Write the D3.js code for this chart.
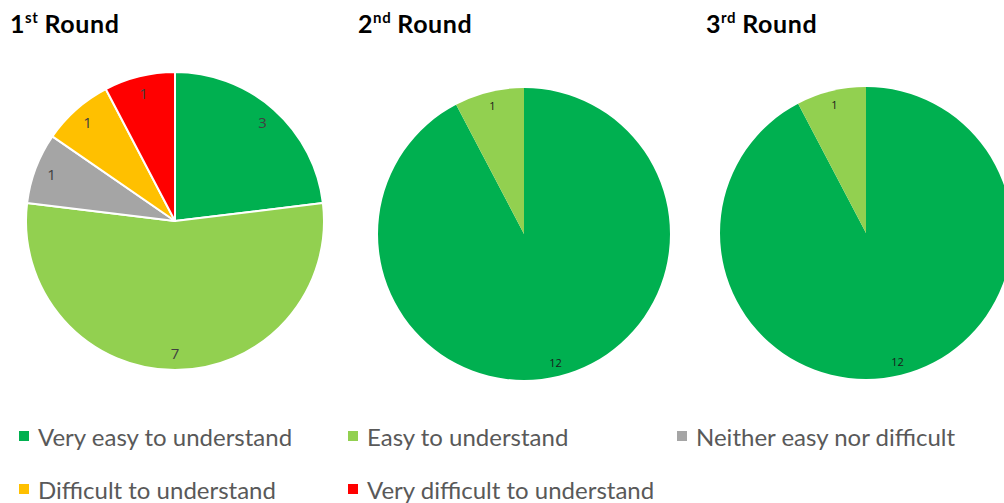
<!DOCTYPE html>
<html>
<head>
<meta charset="utf-8">
<script src="https://cdn.jsdelivr.net/npm/d3@7"></script>
<style>
  html, body { margin: 0; padding: 0; background: #fff; }
  svg { display: block; font-family: Lato, "Liberation Sans", sans-serif; }
</style>
</head>
<body>
<svg id="chart" width="1004" height="503"></svg>
<script>
// Response categories (legend order)
const categories = [
  "Very easy to understand",
  "Easy to understand",
  "Neither easy nor difficult",
  "Difficult to understand",
  "Very difficult to understand"
];
const colors = ["#00B050", "#92D050", "#A5A5A5", "#FFC000", "#FF0000"];

// Counts per category for each round
const round1 = [3, 7, 1, 1, 1];
const round2 = [12, 1, 0, 0, 0];
const round3 = [12, 1, 0, 0, 0];

const roundTitles = [
  { num: "1", sup: "st" },
  { num: "2", sup: "nd" },
  { num: "3", sup: "rd" }
];

const svg = d3.select("#chart");

const pies = [
  { values: round1, title: roundTitles[0], cx: 175, cy: 221, r: 149, tx: 10, stroke: 2, labelR: 132, labelSize: 15, labelColor: "#404040" },
  { values: round2, title: roundTitles[1], cx: 524, cy: 234, r: 146, tx: 358, stroke: 0, labelR: 132, labelSize: 11, labelColor: "#1a1a1a" },
  { values: round3, title: roundTitles[2], cx: 866, cy: 233, r: 146, tx: 706, stroke: 0, labelR: 132, labelSize: 11, labelColor: "#1a1a1a" }
];

const pieGen = d3.pie().sort(null).value(d => d.v);

pies.forEach(p => {
  // title with superscript ordinal
  const t = svg.append("text")
    .attr("x", p.tx).attr("y", 33)
    .attr("font-size", 25).attr("font-weight", 700).attr("fill", "#000")
    .attr("letter-spacing", 0.6);
  t.append("tspan").text(p.title.num);
  t.append("tspan").attr("dy", -10).attr("font-size", 15).text(p.title.sup);
  t.append("tspan").attr("dy", 10).attr("dx", 6).text("Round");

  const data = p.values.map((v, i) => ({ v, i })).filter(d => d.v > 0);
  const arcs = pieGen(data);
  const arc = d3.arc().innerRadius(0).outerRadius(p.r);
  const g = svg.append("g").attr("transform", `translate(${p.cx},${p.cy})`);

  g.selectAll("path").data(arcs).join("path")
    .attr("d", arc)
    .attr("fill", d => colors[d.data.i])
    .attr("stroke", p.stroke ? "#fff" : "none")
    .attr("stroke-width", p.stroke)
    .attr("stroke-linejoin", "round");

  const labelArc = d3.arc().innerRadius(p.labelR).outerRadius(p.labelR);
  g.selectAll("text.val").data(arcs).join("text")
    .attr("class", "val")
    .attr("transform", d => `translate(${labelArc.centroid(d)})`)
    .attr("text-anchor", "middle")
    .attr("dominant-baseline", "central")
    .attr("font-family", "'Open Sans', sans-serif")
    .attr("font-size", p.labelSize)
    .attr("fill", p.labelColor)
    .text(d => d.data.v);
});

// legend: three columns, two rows
const legendCols = [19, 348, 677];
const legendRows = [436, 489];
const legend = svg.append("g");
categories.forEach((c, i) => {
  const x = legendCols[i % 3];
  const y = legendRows[Math.floor(i / 3)];
  legend.append("rect")
    .attr("x", x).attr("y", y - 5)
    .attr("width", 10).attr("height", 10)
    .attr("fill", colors[i]);
  legend.append("text")
    .attr("x", x + 19).attr("y", y)
    .attr("dominant-baseline", "central")
    .attr("font-size", 24)
    .attr("fill", "#595959")
    .text(c);
});
</script>
</body>
</html>
